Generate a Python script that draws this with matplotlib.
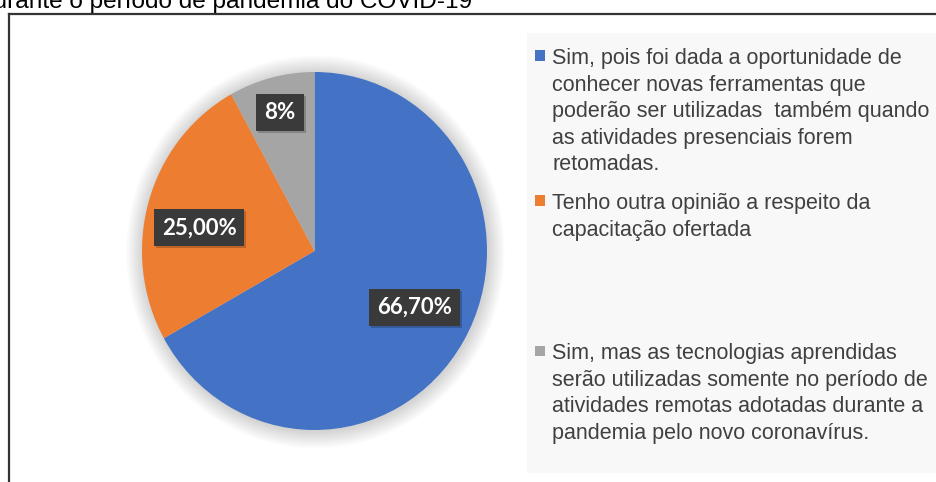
import matplotlib
matplotlib.use("Agg")
import matplotlib.pyplot as plt
import numpy as np
from matplotlib.patches import Ellipse, Rectangle
from matplotlib.lines import Line2D
import matplotlib.transforms as mtransforms

# ---- data ----
categories = [
    "Sim, pois foi dada a oportunidade de\nconhecer novas ferramentas que\npoderão ser utilizadas  também quando\nas atividades presenciais forem\nretomadas.",
    "Tenho outra opinião a respeito da\ncapacitação ofertada",
    "Sim, mas as tecnologias aprendidas\nserão utilizadas somente no período de\natividades remotas adotadas durante a\npandemia pelo novo coronavírus.",
]
values = [66.7, 25.0, 8.0]
value_labels = ["66,70%", "25,00%", "8%"]
colors = ["#4472C4", "#ED7D31", "#A5A5A5"]
title_text = "durante o período de pandemia do COVID-19"

W, H = 936, 482
fig = plt.figure(figsize=(W / 100, H / 100), dpi=100)
fig.patch.set_facecolor("white")

def fx(px):
    return px / W

def fy(py):  # py measured from top
    return 1 - py / H

# legend background
fig.patches.append(Rectangle((fx(527), fy(473)), fx(936 - 527), (473 - 33) / H,
                             transform=fig.transFigure, facecolor="#F8F8F8",
                             edgecolor="none", zorder=0))

# border lines
fig.add_artist(Line2D([fx(8.5), 1.0], [fy(14), fy(14)], transform=fig.transFigure,
                      color="#333333", lw=1.6))
fig.add_artist(Line2D([fx(8.5), fx(8.5)], [fy(14), 0.0], transform=fig.transFigure,
                      color="#333333", lw=1.6))

# clipped title at top
fig.text(fx(472), fy(8), title_text, ha="right", va="baseline",
         fontsize=17.6, color="black", family="Liberation Sans")

# pie axes (slightly elliptical like the original)
cx, cy, rx, ry = 314.5, 251, 172.5, 179
pad = 1.15
ax = fig.add_axes([fx(cx - rx * pad), (H - cy - ry * pad) / H,
                   2 * rx * pad / W, 2 * ry * pad / H])
wedges, _ = ax.pie(values, colors=colors, startangle=90, counterclock=False,
                   wedgeprops=dict(linewidth=0))
ax.set_aspect("auto")
ax.set_xlim(-pad, pad)
ax.set_ylim(-pad, pad)
ax.axis("off")

# soft glow around the pie
for k in range(22):
    r = 1.0 + 0.0045 * (k + 1)
    ax.add_patch(Ellipse((0.005, -0.005), 2 * r, 2 * r, facecolor="#000000",
                         alpha=0.008, edgecolor="none", zorder=-1))

# data labels
radial = [0.662, 0.682, 0.80]
ang_shift = [2.0, 5.0, 0.0]
shadow_tr = mtransforms.offset_copy(ax.transData, fig=fig, x=2, y=-2, units="dots")
for w, lab, rr, da in zip(wedges, value_labels, radial, ang_shift):
    ang = np.deg2rad((w.theta1 + w.theta2) / 2 + da)
    x, y = rr * np.cos(ang), rr * np.sin(ang)
    ax.text(x, y, lab, transform=shadow_tr, ha="center", va="center",
            fontsize=16, fontweight="bold", family="Lato", color=(0, 0, 0, 0),
            bbox=dict(boxstyle="square,pad=0.36", fc="black", ec="none", alpha=0.2))
    ax.text(x, y, lab, ha="center", va="center", fontsize=16, fontweight="bold",
            family="Lato", color="white",
            bbox=dict(boxstyle="square,pad=0.36", fc="#3A3A3A", ec="none"))

# legend (manual, to match irregular spacing)
legend_tops = [48, 193, 343]
for lab, col, top in zip(categories, colors, legend_tops):
    fig.text(fx(552), fy(top), lab, ha="left", va="top", fontsize=15.5,
             family="Liberation Sans", color="#404040", linespacing=1.35)
    fig.patches.append(Rectangle((fx(534.5), fy(top + 13)), fx(10.5), 10.5 / H,
                                 transform=fig.transFigure, facecolor=col,
                                 edgecolor="none"))

fig.savefig("out.png", dpi=100)
